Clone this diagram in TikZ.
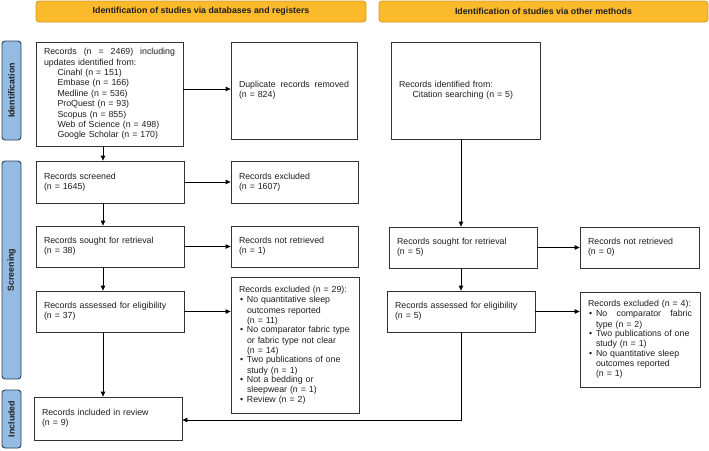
\documentclass[tikz,border=0pt]{standalone}
\usepackage{fontspec}
\setmainfont{Liberation Sans}
\usetikzlibrary{arrows.meta}
\definecolor{hdrfill}{RGB}{251,186,44}
\definecolor{hdrdraw}{RGB}{214,150,32}
\definecolor{sidefill}{RGB}{148,188,226}
\definecolor{sidedraw}{RGB}{38,64,92}
\definecolor{boxline}{RGB}{50,50,50}
\definecolor{txt}{RGB}{30,30,30}
\newcommand{\fs}{\fontsize{8.8}{10.4}\selectfont}
\newcommand{\bul}{\makebox[8pt][l]{\hspace{1pt}\textbullet}}
\newcommand{\bitem}[1]{\par\noindent\bul\parbox[t]{\dimexpr\hsize-8pt\relax}{\raggedright\noindent #1}}
\newcommand{\ind}{\hspace*{13.5pt}}
\begin{document}
\begin{tikzpicture}[x=1pt,y=-1pt,
  pbox/.style={draw=boxline, line width=0.8pt, fill=white, inner xsep=8pt, inner ysep=1pt, align=left, font=\fs, text=txt, anchor=center},
  hdr/.style={draw=hdrdraw, fill=hdrfill, rounded corners=3pt, line width=0.7pt, font=\fs\bfseries, text=txt, inner sep=0pt},
  side/.style={draw=sidedraw, fill=sidefill, rounded corners=3pt, line width=0.9pt, font=\fs\bfseries, text=txt, inner sep=0pt},
  arr/.style={-{Triangle[length=5pt,width=4.5pt]}, line width=0.8pt, black}]
\useasboundingbox (0,0) rectangle (709,450);

% headers
\node[hdr, minimum width=330pt, minimum height=21pt] (h1) at (201,11.5) {Identification of studies via databases and registers};
\node[hdr, minimum width=329pt, minimum height=21pt] (h2) at (543.5,11.5) {Identification of studies via other methods};

% side bars
\node[side, minimum width=99pt, minimum height=19pt, rotate=90] (s1) at (11.5,90.5) {Identification};
\node[side, minimum width=218pt, minimum height=19pt, rotate=90] (s2) at (11.5,270) {Screening};
\node[side, minimum width=58pt, minimum height=19pt, rotate=90] (s3) at (11.5,419) {Included};

% boxes
\node[pbox, minimum width=147pt, minimum height=104pt, text width=131pt] (A) at (109.5,94)
 {\noindent\hbox to \hsize{Records\hfill(n\hfill=\hfill2469)\hfill including}\\
  updates identified from:\\
  \ind Cinahl (n = 151)\\
  \ind Embase (n = 166)\\
  \ind Medline (n = 536)\\
  \ind ProQuest (n = 93)\\
  \ind Scopus (n = 855)\\
  \ind Web of Science (n = 498)\\
  \ind Google Scholar (n = 170)};
\node[pbox, minimum width=126pt, minimum height=97pt, text width=110pt] (B) at (294,90.5)
 {\noindent\hbox to \hsize{Duplicate\hfill records\hfill removed}\\(n = 824)};
\node[pbox, minimum width=149pt, minimum height=97pt, text width=133pt] (C) at (465.5,90.5)
 {Records identified from:\\ \ind Citation searching (n = 5)};

\node[pbox, minimum width=148pt, minimum height=42pt, text width=132pt] (D) at (110,182)
 {Records screened\\(n = 1645)};
\node[pbox, minimum width=127pt, minimum height=42pt, text width=111pt] (E) at (294.5,182)
 {Records excluded\\(n = 1607)};
\node[pbox, minimum width=148pt, minimum height=41pt, text width=132pt] (F) at (110,246.5)
 {Records sought for retrieval\\(n = 38)};
\node[pbox, minimum width=127pt, minimum height=41pt, text width=111pt] (G) at (294.5,246.5)
 {Records not retrieved\\(n = 1)};
\node[pbox, minimum width=148pt, minimum height=41pt, text width=132pt] (H) at (110,311.5)
 {Records assessed for eligibility\\(n = 37)};
\node[pbox, minimum width=128pt, minimum height=136pt, text width=112pt] (I) at (295,345)
 {\noindent Records excluded (n = 29):
  \bitem{No quantitative sleep\\outcomes reported\\(n = 11)}
  \bitem{No comparator fabric type\\or fabric type not clear\\(n = 14)}
  \bitem{Two publications of one\\study (n = 1)}
  \bitem{Not a bedding or\\sleepwear (n = 1)}
  \bitem{Review (n = 2)}};
\node[pbox, minimum width=148pt, minimum height=43pt, text width=132pt] (J) at (108,418.5)
 {Records included in review\\(n = 9)};

\node[pbox, minimum width=148pt, minimum height=41pt, text width=132pt] (K) at (463,247.5)
 {Records sought for retrieval\\(n = 5)};
\node[pbox, minimum width=119pt, minimum height=41pt, text width=103pt] (L) at (639.5,247.5)
 {Records not retrieved\\(n = 0)};
\node[pbox, minimum width=148pt, minimum height=41pt, text width=132pt] (M) at (461,311.5)
 {Records assessed for eligibility\\(n = 5)};
\node[pbox, minimum width=120pt, minimum height=95pt, text width=104pt] (N) at (640,339.5)
 {\noindent Records excluded (n = 4):
  \bitem{\hbox to \hsize{No\hfill comparator\hfill fabric}\\type (n = 2)}
  \bitem{Two publications of one\\study (n = 1)}
  \bitem{No quantitative sleep\\outcomes reported\\(n = 1)}};

% helper coordinates
\coordinate (colL) at (103,0);
\coordinate (colR) at (461,0);
\coordinate (rowA) at (0,89);
\coordinate (rowJ) at (0,420);

% arrows
\draw[arr] (A.south -| colL) -- (D.north -| colL);
\draw[arr] (D.south -| colL) -- (F.north -| colL);
\draw[arr] (F.south -| colL) -- (H.north -| colL);
\draw[arr] (H.south -| colL) -- (J.north -| colL);
\draw[arr] (A.east |- rowA) -- (B.west |- rowA);
\draw[arr] (D) -- (E);
\draw[arr] (F) -- (G);
\draw[arr] (H.east) -- (H.east -| I.west);
\draw[arr] (C.south -| colR) -- (K.north -| colR);
\draw[arr] (K) -- (L);
\draw[arr] (K.south -| colR) -- (M.north -| colR);
\draw[arr] (M.east) -- (M.east -| N.west);
\draw[arr] (M.south -| colR) |- (J.east |- rowJ);
\end{tikzpicture}
\end{document}
